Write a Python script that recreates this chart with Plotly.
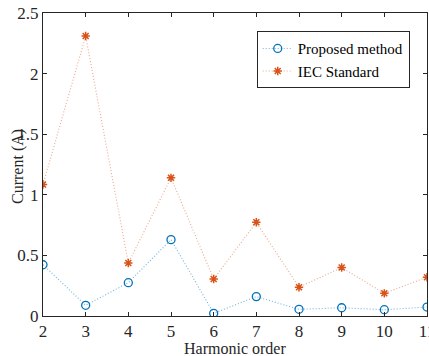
import plotly.graph_objects as go

harmonic_order = [2, 3, 4, 5, 6, 7, 8, 9, 10, 11]
proposed_method = [0.423, 0.088, 0.275, 0.63, 0.022, 0.16, 0.055, 0.068, 0.052, 0.074]
iec_standard = [1.085, 2.31, 0.437, 1.14, 0.305, 0.773, 0.237, 0.40, 0.187, 0.32]
y_ticks = [0, 0.5, 1, 1.5, 2, 2.5]
y_tick_labels = ["0", "0.5", "1", "1.5", "2", "2.5"]
x_ticks = [2, 3, 4, 5, 6, 7, 8, 9, 10, 11]
x_title = "Harmonic order"
y_title = "Current (A)"

BLUE = "#0072BD"
ORANGE = "#D95319"
FONT = "Liberation Serif"
TXT = "#262626"

fig = go.Figure()
fig.add_trace(go.Scatter(
    x=harmonic_order, y=proposed_method, name="Proposed method",
    mode="lines+markers",
    line=dict(color="rgba(0,114,189,0.55)", width=1.1, dash="1px,2px"),
    marker=dict(symbol="circle-open", size=8, color=BLUE, line=dict(width=1.3, color=BLUE)),
))
fig.add_trace(go.Scatter(
    x=harmonic_order, y=iec_standard, name="IEC Standard",
    mode="lines+markers",
    line=dict(color="rgba(217,83,25,0.5)", width=1.1, dash="1px,2px"),
    marker=dict(symbol="asterisk-open", size=7, color=ORANGE, line=dict(width=1.5, color=ORANGE)),
))

axis_common = dict(
    showgrid=False, zeroline=False, showline=True, linecolor=TXT, linewidth=1,
    mirror="ticks", ticks="inside", ticklen=4, tickcolor=TXT,
    tickfont=dict(family=FONT, size=17, color=TXT),
    ticklabeloverflow="allow", automargin=False,
)
fig.update_xaxes(range=[2, 11], tickvals=x_ticks, **axis_common)
fig.update_yaxes(range=[0, 2.5], tickvals=y_ticks, ticktext=y_tick_labels, **axis_common)

fig.add_annotation(text=x_title, xref="paper", yref="paper", x=0.5, y=-0.106,
                   xanchor="center", yanchor="middle", showarrow=False,
                   font=dict(family=FONT, size=16, color=TXT))
fig.add_annotation(text=y_title, xref="paper", yref="paper", x=-0.065, y=0.492,
                   xanchor="center", yanchor="middle", showarrow=False, textangle=-90,
                   font=dict(family=FONT, size=16, color=TXT))

fig.update_layout(
    width=429, height=356,
    margin=dict(l=43, r=2, t=13, b=40),
    paper_bgcolor="white", plot_bgcolor="white",
    showlegend=True,
    legend=dict(x=0.955, y=0.94, xanchor="right", yanchor="top",
                bgcolor="white", bordercolor=TXT, borderwidth=1,
                font=dict(family=FONT, size=15, color="black"),
                tracegroupgap=0, itemwidth=30),
)
fig.write_html("out.html", config={"displayModeBar": False},
               post_script="document.body.style.margin='0';")
